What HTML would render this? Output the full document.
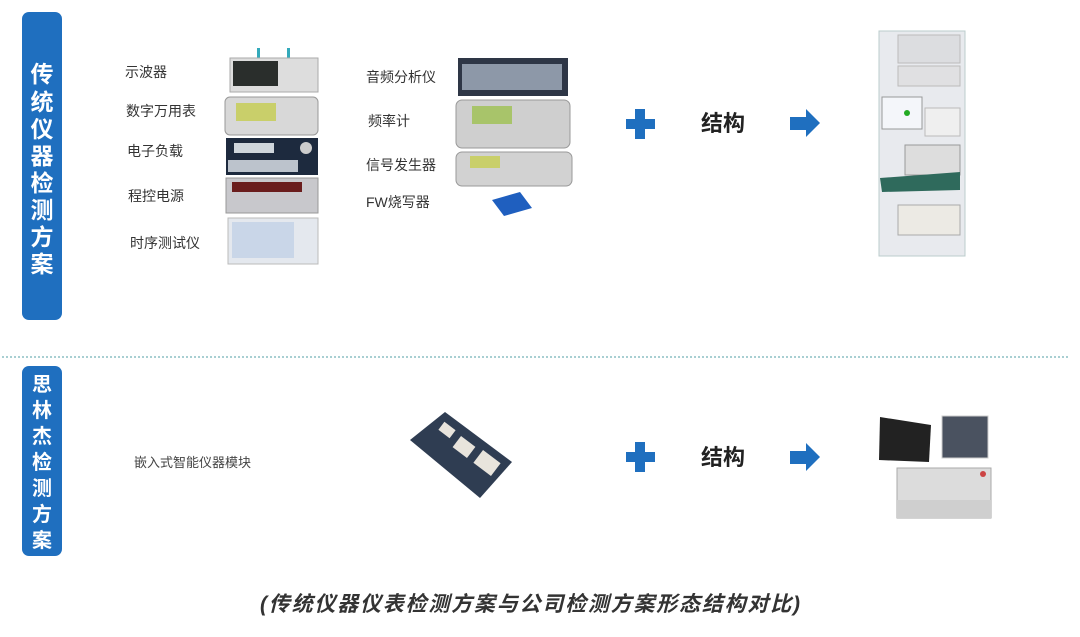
<!DOCTYPE html>
<html><head><meta charset="utf-8"><style>
html,body{margin:0;padding:0;background:#fff;width:1080px;height:637px;overflow:hidden}
svg text{font-family:"Liberation Sans","Noto Sans CJK SC",sans-serif}
</style></head><body>
<svg width="1080" height="637" viewBox="0 0 1080 637" xmlns="http://www.w3.org/2000/svg">
<rect x="22" y="12" width="40" height="308" rx="7" fill="#1f6fbf"/>
<rect x="22" y="366" width="40" height="190" rx="7" fill="#1f6fbf"/>
<g fill="#fff" font-size="23" font-weight="bold" text-anchor="middle">
<text x="42" y="82">传</text><text x="42" y="110">统</text><text x="42" y="137">仪</text><text x="42" y="164">器</text><text x="42" y="191">检</text><text x="42" y="218">测</text><text x="42" y="245">方</text><text x="42" y="272">案</text>
</g>
<g fill="#fff" font-size="20" font-weight="bold" text-anchor="middle">
<text x="42" y="391">思</text><text x="42" y="417">林</text><text x="42" y="443">杰</text><text x="42" y="469">检</text><text x="42" y="495">测</text><text x="42" y="521">方</text><text x="42" y="547">案</text>
</g>
<line x1="2" y1="357" x2="1068" y2="357" stroke="#a8cfd2" stroke-width="2" stroke-dasharray="2,2"/>

<g font-size="14" fill="#333">
<text x="125" y="77">示波器</text>
<text x="126" y="116">数字万用表</text>
<text x="127" y="156">电子负载</text>
<text x="128" y="201">程控电源</text>
<text x="130" y="248">时序测试仪</text>
<text x="366" y="82">音频分析仪</text>
<text x="368" y="126">频率计</text>
<text x="366" y="170">信号发生器</text>
<text x="366" y="207">FW烧写器</text>
</g>

<rect x="257" y="48" width="3" height="10" fill="#3ab"/><rect x="287" y="48" width="3" height="10" fill="#3ab"/>
<rect x="230" y="58" width="88" height="34" fill="#ddd" stroke="#aaa"/>
<rect x="233" y="61" width="45" height="25" fill="#2a2e2c"/>
<rect x="225" y="97" width="93" height="38" rx="5" fill="#d8d8d8" stroke="#999"/>
<rect x="236" y="103" width="40" height="18" fill="#c9cf6a"/>
<rect x="226" y="138" width="92" height="37" fill="#1d2a3e"/>
<rect x="234" y="143" width="40" height="10" fill="#cfd6dc"/>
<rect x="228" y="160" width="70" height="12" fill="#bcc3cc"/>
<circle cx="306" cy="148" r="6" fill="#ccc"/>
<rect x="226" y="178" width="92" height="35" fill="#c8c8cc" stroke="#999"/>
<rect x="232" y="182" width="70" height="10" fill="#6a1d1d"/>
<rect x="228" y="218" width="90" height="46" fill="#e4e8ee" stroke="#bbb"/>
<rect x="232" y="222" width="62" height="36" fill="#c9d6e8"/>
<rect x="458" y="58" width="110" height="38" fill="#2e3646"/>
<rect x="462" y="64" width="100" height="26" fill="#8d98a8"/>
<rect x="456" y="100" width="114" height="48" rx="6" fill="#cfcfcf" stroke="#999"/>
<rect x="472" y="106" width="40" height="18" fill="#a8c46a"/>
<rect x="456" y="152" width="116" height="34" rx="6" fill="#d2d2d2" stroke="#999"/>
<rect x="470" y="156" width="30" height="12" fill="#c9cf6a"/>
<polygon points="492,200 520,192 532,208 504,216" fill="#1f5fbf"/>

<g fill="#1f6fbf">
<rect x="626" y="119" width="29" height="10"/><rect x="635" y="109" width="10" height="30"/>
<polygon points="790,117 806,117 806,109 820,123 806,137 806,130 790,130"/>
<rect x="626" y="452" width="29" height="10"/><rect x="635" y="442" width="10" height="30"/>
<polygon points="790,451 806,451 806,443 820,457 806,471 806,464 790,464"/>
</g>
<g font-size="22" font-weight="bold" fill="#222">
<text x="701" y="131">结构</text>
<text x="701" y="465">结构</text>
</g>

<rect x="879" y="31" width="86" height="225" fill="#e8eaee" stroke="#bcc"/>
<rect x="898" y="35" width="62" height="28" fill="#dcdde0" stroke="#bbb"/>
<rect x="898" y="66" width="62" height="20" fill="#e0e0e2" stroke="#bbb"/>
<rect x="882" y="97" width="40" height="32" fill="#f4f6fa" stroke="#999"/>
<circle cx="907" cy="113" r="3" fill="#2a2"/>
<rect x="925" y="108" width="35" height="28" fill="#efefef" stroke="#bbb"/>
<rect x="905" y="145" width="55" height="30" fill="#ddd" stroke="#999"/>
<polygon points="880,178 960,172 960,190 882,192" fill="#2f6a5c"/>
<rect x="898" y="205" width="62" height="30" fill="#eceae4" stroke="#aaa"/>

<polygon points="410,440 445,412 512,462 480,498" fill="#2f3d52"/>
<rect x="440" y="425" width="14" height="10" fill="#e8e4dc" transform="rotate(37 447 430)"/>
<rect x="455" y="440" width="18" height="14" fill="#e8e4dc" transform="rotate(37 464 447)"/>
<rect x="476" y="455" width="22" height="16" fill="#e8e4dc" transform="rotate(37 487 463)"/>
<text x="134" y="467" font-size="13" fill="#444">嵌入式智能仪器模块</text>

<polygon points="880,417 931,425 929,462 879,460" fill="#222"/>
<rect x="942" y="416" width="46" height="42" fill="#4a5260" stroke="#ccc"/>
<rect x="897" y="468" width="94" height="50" fill="#dcdcdc" stroke="#aaa"/>
<rect x="897" y="500" width="94" height="18" fill="#cfcfcf"/>
<circle cx="983" cy="474" r="3" fill="#c44"/>

<text x="530" y="611" font-size="21" font-style="italic" font-weight="bold" fill="#333" text-anchor="middle" textLength="540" lengthAdjust="spacing" font-family="'Liberation Serif','Noto Serif CJK SC',serif">(传统仪器仪表检测方案与公司检测方案形态结构对比)</text>
</svg>
</body></html>
